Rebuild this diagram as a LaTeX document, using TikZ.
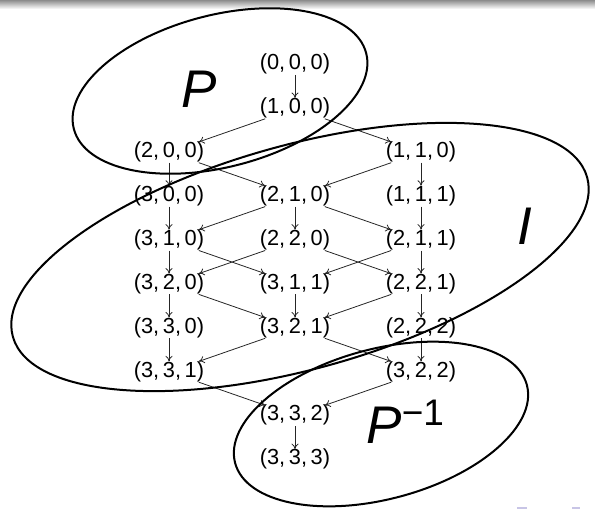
\documentclass[tikz,border=0pt]{standalone}
\usepackage{fontspec}
\setmainfont{Liberation Sans}
\usetikzlibrary{arrows.meta}
\definecolor{navcol}{HTML}{C8C5E6}
\tikzset{
  % lattice point (a,b,c)
  triple/.style={inner sep=0.5pt, outer sep=0pt, text height=0.73em,
                 text depth=0.21em, font=\fontsize{10.9}{13}\selectfont},
  % covering relation
  cover/.style={-{To[length=2.8pt,width=3.6pt]}, line width=0.4pt, draw=black!85},
  % block of the decomposition
  block/.style={line width=1pt},
  % big block label
  blocklabel/.style={inner sep=0pt, anchor=base,
                     font=\fontsize{26.5}{30}\selectfont\itshape},
}
\begin{document}
\begin{tikzpicture}[x=0.5pt,y=0.5pt]
  \useasboundingbox (0,0) rectangle (595,-509);
  \shade[top color=black!45,bottom color=white] (0,0) rectangle (595,-9);
  % lattice points, column/row
  \foreach \a/\b/\c/\col/\row in {0/0/0/1/0, 1/0/0/1/1, 2/0/0/0/2, 1/1/0/2/2,
      3/0/0/0/3, 2/1/0/1/3, 1/1/1/2/3, 3/1/0/0/4, 2/2/0/1/4, 2/1/1/2/4,
      3/2/0/0/5, 3/1/1/1/5, 2/2/1/2/5, 3/3/0/0/6, 3/2/1/1/6, 2/2/2/2/6,
      3/3/1/0/7, 3/2/2/2/7, 3/3/2/1/8, 3/3/3/1/9}
    \node[triple] (n\a\b\c) at ({169+126*\col},{-64.5-43.9*\row}) {(\a,\,\b,\,\c)};
  \foreach \s/\t in {000/100, 100/200, 100/110, 200/300, 200/210, 110/210,
      110/111, 300/310, 210/310, 210/220, 210/211, 111/211, 310/320, 310/311,
      220/320, 220/221, 211/311, 211/221, 320/330, 320/321, 311/321, 221/321,
      221/222, 330/331, 321/331, 321/322, 222/322, 331/332, 322/332, 332/333}
    \draw[cover] (n\s) -- (n\t);
  % blocks
  \draw[block, rotate around={14.5:(220,-91)}] (220,-91) ellipse [x radius=151, y radius=76];
  \draw[block, rotate around={15.5:(300,-257)}] (300,-257) ellipse [x radius=298, y radius=112];
  \draw[block, rotate around={15:(381,-424)}] (381,-424) ellipse [x radius=151, y radius=75];
  \node[blocklabel] (lp) at (199,-107) {P};
  \node[blocklabel] (li) at (525,-244) {I};
  \node[blocklabel, anchor=base west] (lpinv) at (366,-443)
    {P\raisebox{9pt}{\fontsize{18.5}{20}\selectfont\upshape −1}};
  % navigation symbols
  \fill[navcol] (517,-507) rectangle (527,-509);
  \fill[navcol] (572,-507) rectangle (580,-509);
\end{tikzpicture}
\end{document}
